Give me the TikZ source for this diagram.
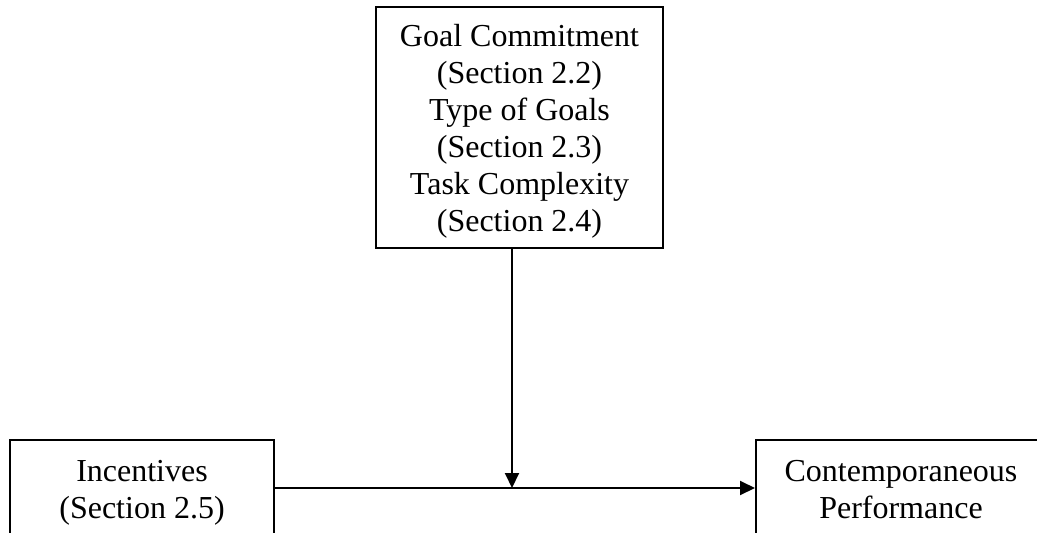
\documentclass[tikz,border=0pt]{standalone}
\usepackage{fontspec}
\setmainfont{Liberation Serif}
\usetikzlibrary{arrows.meta}

\newcommand{\tallstrut}{\rule{0pt}{30pt}}
\newcommand{\deepstrut}{\rule[-7pt]{0pt}{7pt}}

\begin{document}
\begin{tikzpicture}[
    x=1pt,y=-1pt,
    font=\fontsize{32}{37}\selectfont,
    line cap=butt,
    line join=miter,
    box/.style={draw=black, line width=2pt, align=center, inner sep=0pt},
    link/.style={draw=black, line width=2pt, -{Triangle[length=15pt,width=14pt]}}
]

\useasboundingbox (0,0) rectangle (1037,533);
\clip (0,0) rectangle (1037,533);

\node[box, minimum width=287pt, minimum height=241pt] (goal) at (519.5,127.5)
    {\tallstrut Goal Commitment\\(Section 2.2)\\Type of Goals\\(Section 2.3)\\Task Complexity\\(Section 2.4)\deepstrut};
\node[box, minimum width=264pt, minimum height=96pt] (incent) at (142,488)
    {\tallstrut Incentives\\(Section 2.5)\deepstrut};
\node[box, minimum width=290pt, minimum height=96pt] (perf) at (901,488)
    {\tallstrut Contemporaneous\\Performance\deepstrut};

\coordinate (join) at (512,488);

\draw[link] (incent.east) -- (perf.west);
\draw[link] (goal.south -| join) -- (join);

\end{tikzpicture}
\end{document}
